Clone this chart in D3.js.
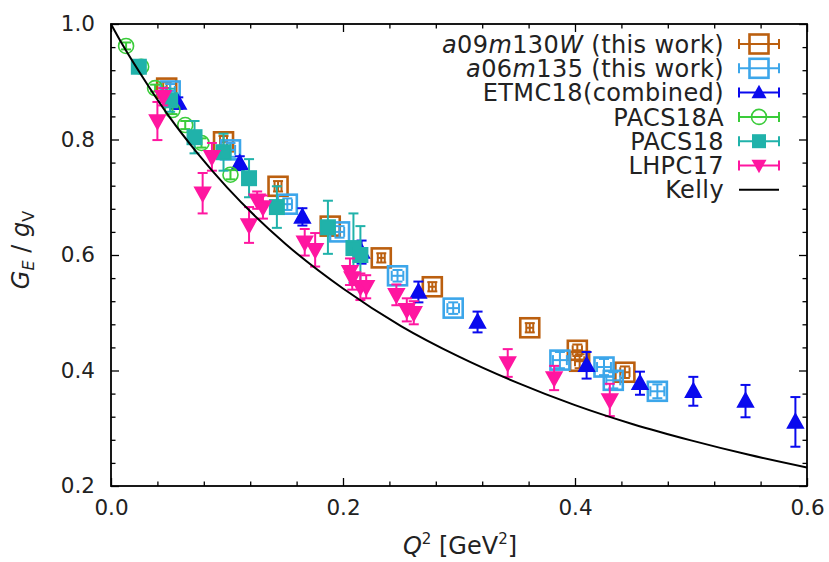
<!DOCTYPE html>
<html>
<head>
<meta charset="utf-8">
<script src="https://cdn.jsdelivr.net/npm/d3@7"></script>
<style>
  body { margin: 0; background: #fff; }
  svg { display: block; font-family: "DejaVu Sans", sans-serif; }
</style>
</head>
<body>
<div id="chart"></div>
<script>
// a09m130W (this work)
const a09Q2 = [0.048, 0.097, 0.144, 0.189, 0.233, 0.277, 0.361, 0.402, 0.404, 0.443];
const a09GE = [0.889, 0.796, 0.719, 0.650, 0.595, 0.545, 0.474, 0.435, 0.416, 0.397];
const a09Err = [0.010, 0.010, 0.009, 0.008, 0.008, 0.008, 0.008, 0.010, 0.012, 0.010];
const a09XErr = [0.003, 0.003, 0.003, 0.003, 0.003, 0.003, 0.003, 0.004, 0.004, 0.004];

// a06m135 (this work)
const a06Q2 = [0.051, 0.103, 0.152, 0.197, 0.247, 0.295, 0.387, 0.425, 0.433, 0.471];
const a06GE = [0.884, 0.782, 0.688, 0.640, 0.564, 0.508, 0.418, 0.406, 0.383, 0.364];
const a06Err = [0.012, 0.012, 0.010, 0.010, 0.010, 0.010, 0.014, 0.014, 0.014, 0.012];
const a06XErr = [0.004, 0.004, 0.004, 0.004, 0.005, 0.005, 0.006, 0.006, 0.006, 0.006];

// ETMC18 (combined)
const etmcQ2 = [0.058, 0.111, 0.165, 0.216, 0.265, 0.316, 0.410, 0.456, 0.502, 0.547, 0.590];
const etmcGE = [0.863, 0.759, 0.666, 0.605, 0.536, 0.484, 0.409, 0.378, 0.364, 0.347, 0.311];
const etmcErr = [0.010, 0.012, 0.015, 0.020, 0.018, 0.018, 0.023, 0.020, 0.025, 0.028, 0.043];

// PACS18A
const pacsAQ2 = [0.013, 0.026, 0.038, 0.053, 0.064, 0.078, 0.103];
const pacsAGE = [0.962, 0.926, 0.889, 0.851, 0.825, 0.794, 0.739];
const pacsAErr = [0.006, 0.006, 0.006, 0.007, 0.007, 0.008, 0.008];

// PACS18
const pacsQ2 = [0.024, 0.051, 0.072, 0.097, 0.119, 0.143, 0.187, 0.209, 0.215];
const pacsGE = [0.926, 0.868, 0.804, 0.778, 0.733, 0.683, 0.648, 0.612, 0.600];
const pacsErr = [0.008, 0.020, 0.028, 0.032, 0.033, 0.036, 0.046, 0.060, 0.050];

// LHPC17
const lhpcQ2 = [0.040, 0.045, 0.079, 0.087, 0.119, 0.126, 0.131, 0.167, 0.176, 0.206,
                0.208, 0.215, 0.220, 0.246, 0.255, 0.261, 0.342, 0.382, 0.430];
const lhpcGE = [0.832, 0.874, 0.707, 0.770, 0.652, 0.695, 0.683, 0.622, 0.609, 0.571,
                0.560, 0.545, 0.545, 0.531, 0.505, 0.500, 0.413, 0.387, 0.349];
const lhpcErr = [0.033, 0.015, 0.035, 0.024, 0.031, 0.015, 0.020, 0.023, 0.029, 0.023,
                 0.020, 0.023, 0.020, 0.018, 0.020, 0.020, 0.024, 0.021, 0.028];

// Kelly curve, read at sample points
const kellyQ2 = [0.0, 0.01, 0.025, 0.05, 0.075, 0.1, 0.15, 0.2, 0.25, 0.3, 0.35, 0.4, 0.45, 0.5, 0.55, 0.6];
const kellyGE = [1.0, 0.964, 0.915, 0.840, 0.775, 0.717, 0.620, 0.542, 0.477, 0.424, 0.379, 0.340, 0.307, 0.279, 0.254, 0.232];

const xTicks = [0.0, 0.2, 0.4, 0.6];
const yTicks = [0.2, 0.4, 0.6, 0.8, 1.0];

const width = 829, height = 562;
const margin = { top: 24, right: 22, bottom: 76, left: 111 };
const w = width - margin.left - margin.right;
const h = height - margin.top - margin.bottom;

const svg = d3.select('#chart').append('svg')
  .attr('width', width)
  .attr('height', height);

const g = svg.append('g')
  .attr('transform', `translate(${margin.left},${margin.top})`);

const x = d3.scaleLinear().domain([0, 0.6]).range([0, w]);
const y = d3.scaleLinear().domain([0.2, 1.0]).range([h, 0]);

const minorX = d3.range(0, 0.6001, 0.04).filter(v => Math.abs(v / 0.2 - Math.round(v / 0.2)) > 1e-6);
const minorY = d3.range(0.2, 1.0001, 0.04).filter(v => Math.abs(v / 0.2 - Math.round(v / 0.2)) > 1e-6);

function styleAxis(sel) {
  sel.select('.domain').remove();
  sel.selectAll('line').attr('stroke', '#000').attr('stroke-width', 1.3);
  sel.selectAll('text').attr('font-size', 21.5).attr('fill', '#222')
    .attr('font-family', '"DejaVu Sans", sans-serif');
}

// major + minor ticks, all pointing inward
g.append('g').attr('transform', `translate(0,${h})`)
  .call(d3.axisBottom(x).tickValues(xTicks).tickFormat(d3.format('.1f')).tickSize(-8).tickPadding(14))
  .call(styleAxis);
g.append('g').attr('transform', `translate(0,${h})`)
  .call(d3.axisBottom(x).tickValues(minorX).tickFormat('').tickSize(-4.5))
  .call(styleAxis);
g.append('g')
  .call(d3.axisTop(x).tickValues(xTicks).tickFormat('').tickSize(-8))
  .call(styleAxis);
g.append('g')
  .call(d3.axisTop(x).tickValues(minorX).tickFormat('').tickSize(-4.5))
  .call(styleAxis);
g.append('g')
  .call(d3.axisLeft(y).tickValues(yTicks).tickFormat(d3.format('.1f')).tickSize(-8).tickPadding(16))
  .call(styleAxis);
g.append('g')
  .call(d3.axisLeft(y).tickValues(minorY).tickFormat('').tickSize(-4.5))
  .call(styleAxis);
g.append('g').attr('transform', `translate(${w},0)`)
  .call(d3.axisRight(y).tickValues(yTicks).tickFormat('').tickSize(-8))
  .call(styleAxis);
g.append('g').attr('transform', `translate(${w},0)`)
  .call(d3.axisRight(y).tickValues(minorY).tickFormat('').tickSize(-4.5))
  .call(styleAxis);

// marker shapes
function triPath(up, s) {
  const hw = s / 2, hh = s * 0.45;
  return up
    ? `M0,${-hh - 1}L${hw},${hh - 1}L${-hw},${hh - 1}Z`
    : `M0,${hh + 1}L${hw},${-hh + 1}L${-hw},${-hh + 1}Z`;
}

function drawMarker(sel, type, color) {
  if (type === 'openSquare') {
    sel.append('rect').attr('x', -9.5).attr('y', -9.5).attr('width', 19).attr('height', 19)
      .attr('fill', 'none').attr('stroke', color).attr('stroke-width', 2.6);
  } else if (type === 'fillSquare') {
    sel.append('rect').attr('x', -7).attr('y', -7).attr('width', 14).attr('height', 14)
      .attr('fill', color);
  } else if (type === 'openCircle') {
    sel.append('circle').attr('r', 7.5)
      .attr('fill', 'none').attr('stroke', color).attr('stroke-width', 1.6);
  } else if (type === 'triUp') {
    sel.append('path').attr('d', triPath(true, 15)).attr('fill', color);
  } else if (type === 'triDown') {
    sel.append('path').attr('d', triPath(false, 15)).attr('fill', color);
  }
}

const series = [
  { name: 'a09', q2: a09Q2, ge: a09GE, err: a09Err, xerr: a09XErr, color: '#bb5f0f', type: 'openSquare' },
  { name: 'a06', q2: a06Q2, ge: a06GE, err: a06Err, xerr: a06XErr, color: '#3ca6ea', type: 'openSquare' },
  { name: 'ETMC18(combined)', q2: etmcQ2, ge: etmcGE, err: etmcErr, color: '#0a0aee', type: 'triUp' },
  { name: 'PACS18A', q2: pacsAQ2, ge: pacsAGE, err: pacsAErr, color: '#3acc3a', type: 'openCircle' },
  { name: 'PACS18', q2: pacsQ2, ge: pacsGE, err: pacsErr, color: '#20b2aa', type: 'fillSquare' },
  { name: 'LHPC17', q2: lhpcQ2, ge: lhpcGE, err: lhpcErr, color: '#ff16a0', type: 'triDown' }
];

const plot = g.append('g');
const cap = 5;

series.forEach(s => {
  const pts = s.q2.map((q, i) => ({ q, v: s.ge[i], e: s.err[i], xe: s.xerr ? s.xerr[i] : 0 }));
  const grp = plot.append('g').attr('stroke', s.color).attr('stroke-width', 2);
  const p = grp.selectAll('g.pt').data(pts).join('g').attr('class', 'pt');

  // vertical error bars
  p.append('line')
    .attr('x1', d => x(d.q)).attr('x2', d => x(d.q))
    .attr('y1', d => y(d.v + d.e)).attr('y2', d => y(d.v - d.e));
  p.append('line')
    .attr('x1', d => x(d.q) - cap).attr('x2', d => x(d.q) + cap)
    .attr('y1', d => y(d.v + d.e)).attr('y2', d => y(d.v + d.e));
  p.append('line')
    .attr('x1', d => x(d.q) - cap).attr('x2', d => x(d.q) + cap)
    .attr('y1', d => y(d.v - d.e)).attr('y2', d => y(d.v - d.e));

  if (s.xerr) {
    p.append('line')
      .attr('x1', d => x(d.q - d.xe)).attr('x2', d => x(d.q + d.xe))
      .attr('y1', d => y(d.v)).attr('y2', d => y(d.v));
    p.append('line')
      .attr('x1', d => x(d.q - d.xe)).attr('x2', d => x(d.q - d.xe))
      .attr('y1', d => y(d.v) - cap).attr('y2', d => y(d.v) + cap);
    p.append('line')
      .attr('x1', d => x(d.q + d.xe)).attr('x2', d => x(d.q + d.xe))
      .attr('y1', d => y(d.v) - cap).attr('y2', d => y(d.v) + cap);
  }

  p.append('g')
    .attr('transform', d => `translate(${x(d.q)},${y(d.v)})`)
    .attr('stroke', null)
    .each(function () { drawMarker(d3.select(this), s.type, s.color); });
});

// Kelly curve on top
const kelly = kellyQ2.map((q, i) => [q, kellyGE[i]]);
plot.append('path')
  .datum(kelly)
  .attr('fill', 'none')
  .attr('stroke', '#000')
  .attr('stroke-width', 2)
  .attr('d', d3.line().x(d => x(d[0])).y(d => y(d[1])).curve(d3.curveMonotoneX));

// frame
g.append('rect')
  .attr('width', w).attr('height', h)
  .attr('fill', 'none').attr('stroke', '#000').attr('stroke-width', 1.8);

// legend
const legend = svg.append('g').attr('font-size', 24).attr('fill', '#222').attr('letter-spacing', 0.4);
const rowY = i => 44 + i * 24.3;
const textX = 724, symX = 759;

const labels = [
  [['a', 'i'], ['09', 'n'], ['m', 'i'], ['130', 'n'], ['W', 'i'], [' (this work)', 'n']],
  [['a', 'i'], ['06', 'n'], ['m', 'i'], ['135', 'n'], [' (this work)', 'n']],
  [['ETMC18(combined)', 'n']],
  [['PACS18A', 'n']],
  [['PACS18', 'n']],
  [['LHPC17', 'n']],
  [['Kelly', 'n']]
];

labels.forEach((parts, i) => {
  const t = legend.append('text')
    .attr('x', textX).attr('y', rowY(i)).attr('dy', '0.36em')
    .attr('text-anchor', 'end');
  parts.forEach(([str, st]) => {
    t.append('tspan').attr('font-style', st === 'i' ? 'italic' : 'normal').text(str);
  });

  const row = svg.append('g').attr('transform', `translate(${symX},${rowY(i)})`);
  if (i < series.length) {
    const s = series[i];
    const eg = row.append('g').attr('stroke', s.color).attr('stroke-width', 2);
    eg.append('line').attr('x1', -20).attr('x2', 20).attr('y1', 0).attr('y2', 0);
    eg.append('line').attr('x1', -20).attr('x2', -20).attr('y1', -cap).attr('y2', cap);
    eg.append('line').attr('x1', 20).attr('x2', 20).attr('y1', -cap).attr('y2', cap);
    drawMarker(row, s.type, s.color);
  } else {
    row.append('line').attr('x1', -20).attr('x2', 20).attr('y1', 0).attr('y2', 0)
      .attr('stroke', '#000').attr('stroke-width', 2);
  }
});

// axis titles
const xt = svg.append('text')
  .attr('x', 460).attr('y', 554)
  .attr('text-anchor', 'middle')
  .attr('font-size', 24).attr('fill', '#222');
xt.append('tspan').attr('font-style', 'italic').text('Q');
xt.append('tspan').attr('font-size', 15).attr('dy', -10).text('2');
xt.append('tspan').attr('dy', 10).text(' [GeV');
xt.append('tspan').attr('font-size', 15).attr('dy', -10).text('2');
xt.append('tspan').attr('dy', 10).text(']');

const yt = svg.append('text')
  .attr('transform', 'translate(29,250) rotate(-90)')
  .attr('text-anchor', 'middle')
  .attr('font-size', 24).attr('fill', '#222');
yt.append('tspan').attr('font-style', 'italic').text('G');
yt.append('tspan').attr('font-style', 'italic').attr('font-size', 16).attr('dy', 5).text('E');
yt.append('tspan').attr('dy', -5).text(' / ');
yt.append('tspan').attr('font-style', 'italic').text('g');
yt.append('tspan').attr('font-size', 16).attr('dy', 5).text('V');
</script>
</body>
</html>
